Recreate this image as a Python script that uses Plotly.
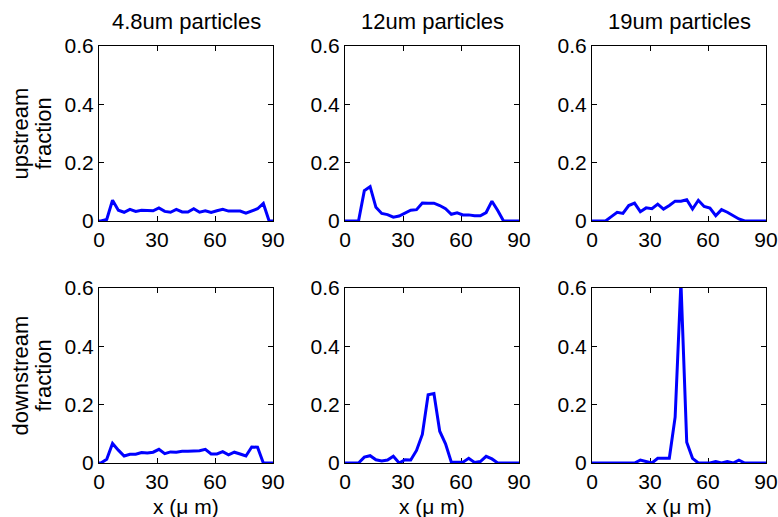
import plotly.graph_objects as go

# bin positions (um)
x_um = [-2, 1, 4, 7, 10, 13, 16, 19, 22, 25, 28, 31, 34, 37, 40, 43, 46, 49,
        52, 55, 58, 61, 64, 67, 70, 73, 76, 79, 82, 85, 88, 91]

up_4p8 = [0, 0, 0.005, 0.071, 0.037, 0.030, 0.040, 0.033, 0.037, 0.037, 0.035, 0.045,
          0.033, 0.030, 0.040, 0.031, 0.031, 0.042, 0.030, 0.035, 0.029, 0.035, 0.040,
          0.034, 0.034, 0.034, 0.027, 0.035, 0.042, 0.060, 0, 0]
up_12 = [0, 0, 0, 0, 0.104, 0.118, 0.047, 0.026, 0.022, 0.013, 0.017, 0.028, 0.037,
         0.039, 0.062, 0.061, 0.061, 0.053, 0.042, 0.023, 0.028, 0.021, 0.021, 0.018,
         0.018, 0.029, 0.068, 0.036, 0, 0, 0, 0]
up_19 = [0, 0, 0, 0, 0.015, 0.030, 0.026, 0.053, 0.061, 0.032, 0.045, 0.042, 0.058,
         0.041, 0.053, 0.068, 0.068, 0.073, 0.041, 0.071, 0.050, 0.044, 0.018, 0.039,
         0.030, 0.019, 0.007, 0, 0, 0, 0, 0]
down_4p8 = [0, 0, 0.013, 0.067, 0.044, 0.024, 0.030, 0.030, 0.036, 0.034, 0.037, 0.047,
            0.032, 0.038, 0.037, 0.040, 0.040, 0.040, 0.042, 0.047, 0.031, 0.031, 0.039,
            0.028, 0.037, 0.031, 0.024, 0.055, 0.054, 0, 0, 0]
down_12 = [0, 0, 0, 0, 0.020, 0.025, 0.011, 0.007, 0.010, 0.023, 0, 0.011, 0.010,
           0.043, 0.098, 0.234, 0.238, 0.109, 0.066, 0.003, 0.003, 0.003, 0.016, 0.002,
           0.005, 0.023, 0.014, 0, 0, 0, 0, 0]
down_19 = [0, 0, 0, 0, 0, 0, 0, 0, 0, 0.010, 0.005, 0, 0.016, 0.016, 0.016, 0.157,
           0.620, 0.071, 0.016, 0, 0, 0, 0.005, 0, 0.005, 0, 0.010, 0, 0, 0, 0, 0]

titles = ["4.8um particles", "12um particles", "19um particles"]
row_labels = [["upstream", "fraction"], ["downstream", "fraction"]]
x_title = "x (\u03bc m)"
x_ticks = [0, 30, 60, 90]
y_ticks = [0, 0.2, 0.4, 0.6]
y_ticktext = ["0", "0.2", "0.4", "0.6"]

series = [up_4p8, up_12, up_19, down_4p8, down_12, down_19]

W, H = 778, 517
col_px = [(99, 273), (345, 519), (592, 766)]
row_px = [(46, 221), (288, 463)]
FONT = "Liberation Sans, Arial, Helvetica, sans-serif"

fig = go.Figure()
layout = dict(
    width=W, height=H, margin=dict(l=0, r=0, t=0, b=0, pad=0, autoexpand=False),
    paper_bgcolor="white", plot_bgcolor="white", showlegend=False,
    font=dict(family=FONT, size=21, color="black"),
)
annotations = []
for r in range(2):
    for c in range(3):
        i = r * 3 + c
        ax = "" if i == 0 else str(i + 1)
        fig.add_trace(go.Scatter(
            x=x_um, y=series[i], mode="lines",
            line=dict(color="#0000ff", width=3),
            xaxis="x" + ax, yaxis="y" + ax, hoverinfo="skip"))
        x0, x1 = col_px[c]
        y0, y1 = row_px[r]
        common = dict(showline=True, linecolor="black", linewidth=1, mirror="ticks",
                      ticks="inside", ticklen=5, tickcolor="black", tickwidth=1,
                      showgrid=False, zeroline=False, layer="below traces",
                      automargin=False,
                      tickfont=dict(family=FONT, size=21, color="black"))
        layout["xaxis" + ax] = dict(
            domain=[x0 / W, x1 / W], range=[0, 90], anchor="y" + ax,
            tickvals=x_ticks, ticktext=[str(v) for v in x_ticks], **common)
        layout["yaxis" + ax] = dict(
            domain=[1 - y1 / H, 1 - y0 / H], range=[0, 0.6], anchor="x" + ax,
            tickvals=y_ticks, ticktext=y_ticktext, **common)
        if r == 0:
            annotations.append(dict(
                text=titles[c], x=(x0 + x1) / 2 / W, y=1 - 22 / H,
                xref="paper", yref="paper", xanchor="center", yanchor="middle",
                showarrow=False, font=dict(family=FONT, size=22, color="black")))
        else:
            annotations.append(dict(
                text=x_title, x=(x0 + x1) / 2 / W, y=1 - 506 / H,
                xref="paper", yref="paper", xanchor="center", yanchor="middle",
                showarrow=False, font=dict(family=FONT, size=21, color="black")))
    yc = (row_px[r][0] + row_px[r][1]) / 2
    for k, xp in enumerate([20, 43]):
        annotations.append(dict(
            text=row_labels[r][k], x=xp / W, y=1 - yc / H,
            xref="paper", yref="paper", xanchor="center", yanchor="middle",
            textangle=-90, showarrow=False,
            font=dict(family=FONT, size=22, color="black")))
layout["annotations"] = annotations
fig.update_layout(**layout)
fig.write_html("out.html")
